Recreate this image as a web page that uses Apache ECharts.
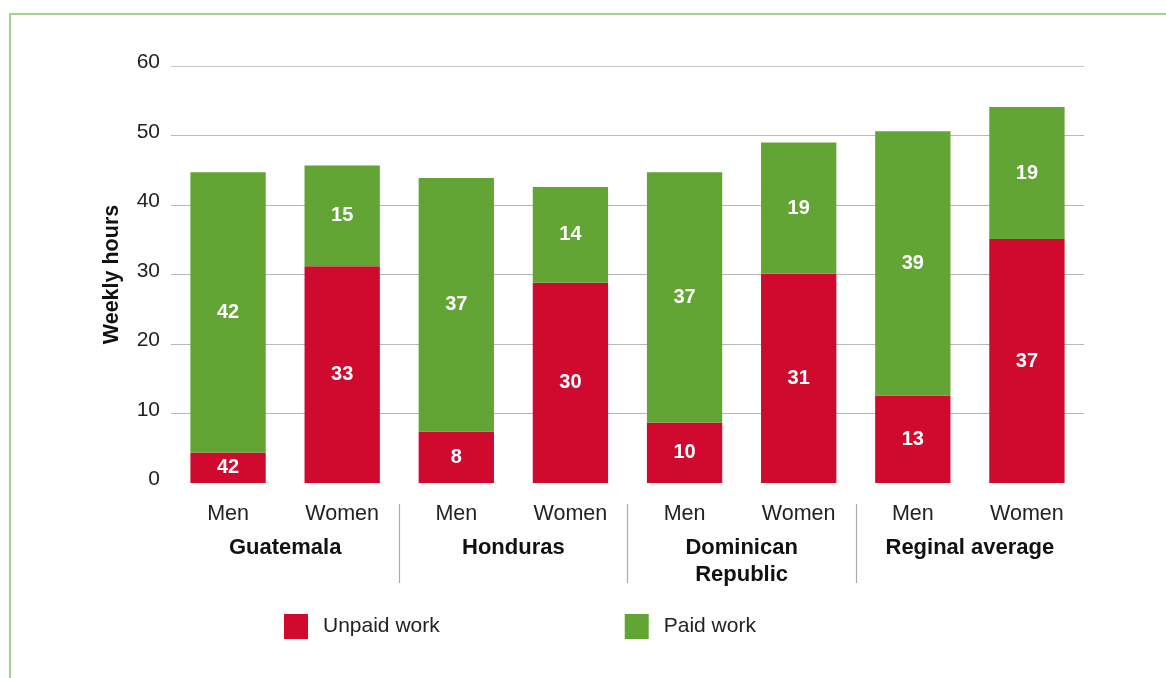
<!DOCTYPE html>
<html>
<head>
<meta charset="utf-8">
<script src="https://cdn.jsdelivr.net/npm/echarts@6/dist/echarts.min.js"></script>
<style>
html,body{margin:0;padding:0;background:#fff;}
#chart{width:1166px;height:678px;}
</style>
</head>
<body>
<div id="chart"></div>
<script>
// Categories
var sexLabels = ['Men', 'Women', 'Men', 'Women', 'Men', 'Women', 'Men', 'Women'];
var groupLabels = ['Guatemala', 'Honduras', 'Dominican\nRepublic', 'Reginal average'];
// Bar heights (weekly hours)
var unpaidHours = [4.4, 31.2, 7.4, 28.8, 8.7, 30.1, 12.6, 35.1];
var paidHours = [40.3, 14.5, 36.5, 13.8, 36.0, 18.9, 38.0, 19.0];
// Printed labels as shown in the reference
var unpaidLabels = ['42', '33', '8', '30', '10', '31', '13', '37'];
var paidLabels = ['42', '15', '37', '14', '37', '19', '39', '19'];
// Axis ticks
var yTicks = [0, 10, 20, 30, 40, 50, 60];
var groupDividers = [2, 4, 6];
var groupCenters = [1, 3, 5, 7];

var FONT = '"Liberation Sans", Arial, sans-serif';
var RED = '#D00A2E';
var GREEN = '#62A534';

var chart = echarts.init(document.getElementById('chart'));

function labelFor(arr) {
  return {
    show: true,
    position: 'inside',
    color: '#fff',
    fontFamily: FONT,
    fontWeight: 'bold',
    fontSize: 20,
    formatter: function (p) { return arr[p.dataIndex]; }
  };
}

var option = {
  backgroundColor: '#fff',
  animation: false,
  textStyle: { fontFamily: FONT },
  graphic: [{
    type: 'rect',
    shape: { x: 10, y: 14, width: 1200, height: 700 },
    style: { fill: 'none', stroke: '#8DC26F', lineWidth: 1.5 },
    silent: true,
    z: -1
  }],
  legend: {
    left: 284,
    top: 614,
    padding: 0,
    itemWidth: 24,
    itemHeight: 25,
    itemGap: 185,
    icon: 'rect',
    textStyle: { fontFamily: FONT, fontSize: 21, color: '#222', padding: [0, 0, 0, 10] },
    data: ['Unpaid work', 'Paid work']
  },
  grid: { left: 171, right: 82, top: 66, bottom: 195 },
  xAxis: [{
    type: 'category',
    data: sexLabels,
    axisLine: { show: false },
    axisTick: { show: false },
    axisLabel: { fontFamily: FONT, fontSize: 21.5, color: '#222', margin: 20 }
  }, {
    type: 'value',
    min: 0,
    max: 8,
    position: 'bottom',
    offset: 21,
    splitLine: { show: false },
    axisLine: { show: false },
    axisTick: {
      show: true,
      customValues: groupDividers,
      length: 79,
      lineStyle: { color: '#ABABAB', width: 1.2 }
    },
    axisLabel: {
      show: true,
      customValues: groupCenters,
      formatter: function (v) { return groupLabels[(v - 1) / 2]; },
      fontFamily: FONT,
      fontSize: 22,
      fontWeight: 'bold',
      color: '#111',
      lineHeight: 27,
      margin: 30
    }
  }],
  yAxis: {
    type: 'value',
    min: 0,
    max: 60,
    interval: 10,
    name: 'Weekly hours',
    nameLocation: 'middle',
    nameGap: 48,
    nameTextStyle: { fontFamily: FONT, fontSize: 21.5, fontWeight: 'bold', color: '#111' },
    axisLine: { show: false },
    axisTick: { show: false },
    axisLabel: {
      fontFamily: FONT, fontSize: 21, color: '#222', margin: 11,
      verticalAlign: 'bottom',
      lineHeight: 7,
      formatter: function (v) { return yTicks.indexOf(v) >= 0 ? String(v) : ''; }
    },
    splitLine: {
      lineStyle: { color: ['rgba(0,0,0,0)', '#B8B8B8', '#B8B8B8', '#B8B8B8', '#B8B8B8', '#B8B8B8', '#C4C4C4'], width: 1.2 }
    }
  },
  series: [{
    name: 'Unpaid work',
    type: 'bar',
    stack: 'hours',
    barWidth: '66%',
    itemStyle: { color: RED },
    label: labelFor(unpaidLabels),
    data: unpaidHours
  }, {
    name: 'Paid work',
    type: 'bar',
    stack: 'hours',
    barWidth: '66%',
    itemStyle: { color: GREEN },
    label: labelFor(paidLabels),
    data: paidHours
  }]
};

chart.setOption(option);
</script>
</body>
</html>
